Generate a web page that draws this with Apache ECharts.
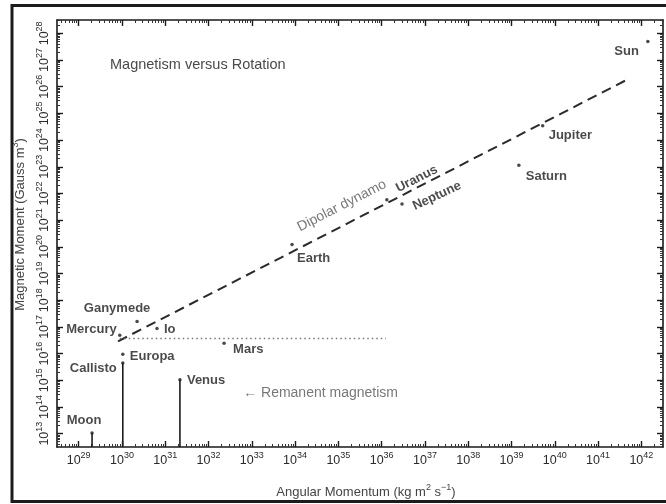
<!DOCTYPE html>
<html>
<head>
<meta charset="utf-8">
<script src="https://cdn.jsdelivr.net/npm/echarts@6/dist/echarts.min.js"></script>
<style>
  html, body { margin: 0; padding: 0; background: #fff; }
  #chart { width: 666px; height: 504px; }
</style>
</head>
<body>
<div id="chart"></div>
<script>
// Magnetic moment against spin angular momentum for solar-system bodies.
// Values are stored as base-10 exponents; axes run linearly in the exponent.

// Axis extents (exponents) and the decade tick labels
const xRange = [28.5, 42.5];
const yRange = [12.5, 28.5];
const xDecades = [29, 30, 31, 32, 33, 34, 35, 36, 37, 38, 39, 40, 41, 42];
const yDecades = [13, 14, 15, 16, 17, 18, 19, 20, 21, 22, 23, 24, 25, 26, 27, 28];

// Bodies with a measured dipole moment
const bodyNames = ['Sun', 'Jupiter', 'Saturn', 'Uranus', 'Neptune', 'Earth',
                   'Ganymede', 'Mercury', 'Io', 'Europa', 'Mars'];
const bodyLogL  = [42.15, 39.72, 39.17, 36.12, 36.47, 33.93, 30.35, 29.95, 30.81, 30.02, 32.36];
const bodyLogM  = [27.69, 24.54, 23.06, 21.76, 21.61, 20.09, 17.20, 16.69, 16.94, 15.98, 16.39];

// Bodies with only an upper limit
const limitNames = ['Callisto', 'Venus', 'Moon'];
const limitLogL  = [30.02, 31.34, 29.31];
const limitLogM  = [15.65, 15.02, 13.02];

// Dipolar-dynamo scaling line and the remanent-magnetism ceiling
const dynamoL = [29.91, 41.69];
const dynamoM = [16.46, 26.28];
const remanentL = [29.95, 36.10];
const remanentM = [16.57, 16.57];

// Free-standing annotations
const noteTexts = ['Dipolar dynamo', '\u2190 Remanent magnetism'];
const noteL = [35.08, 32.80];
const noteM = [21.54, 14.50];

// ---- presentation ----
const FONT = '"Liberation Sans", Arial, Helvetica, sans-serif';
const INK = '#1b1b1b';

// rotate a wanted screen shift into the label's rotated frame
function rotOffset(dx, dy, deg) {
  const t = deg * Math.PI / 180, c = Math.cos(t), s = Math.sin(t);
  return [dx * c - dy * s, dx * s + dy * c];
}

// label placement for each body: [align, dx, dy, rotate]
const bodyLabelStyle = {
  Sun:      ['right', -9, 10, 0],
  Jupiter:  ['left', 6, 10, 0],
  Saturn:   ['left', 7, 11, 0],
  Uranus:   ['center', 30, -21, 27],
  Neptune:  ['center', 35, -8, 25],
  Earth:    ['left', 5, 14, 0],
  Ganymede: ['center', -20, -13, 0],
  Mercury:  ['right', -3, -6, 0],
  Io:       ['left', 7, 1, 0],
  Europa:   ['left', 7, 2, 0],
  Mars:     ['left', 9, 6, 0],
  Callisto: ['right', -6, 5, 0],
  Venus:    ['left', 7, 1, 0],
  Moon:     ['center', -8, -13, 0]
};

function labelled(names, xs, ys) {
  return names.map((n, i) => {
    const st = bodyLabelStyle[n];
    const off = st[3] ? rotOffset(st[1], st[2], st[3]) : [st[1], st[2]];
    return {
      name: n,
      value: [xs[i], ys[i]],
      label: { align: st[0], offset: off, rotate: st[3] }
    };
  });
}

// log-spaced minor ticks (2..9 within every decade)
function minorTicks(range) {
  const out = [];
  for (let d = Math.floor(range[0]); d <= Math.ceil(range[1]); d++) {
    for (let k = 2; k <= 9; k++) {
      const v = d + Math.log10(k);
      if (v > range[0] && v < range[1]) out.push(+v.toFixed(4));
    }
  }
  return out;
}
const xMinor = minorTicks(xRange);
const yMinor = minorTicks(yRange);

const powerRich = {
  b: { fontSize: 12.5, lineHeight: 16, verticalAlign: 'bottom', color: '#2a2a2a', fontFamily: FONT },
  s: { fontSize: 9, lineHeight: 10, verticalAlign: 'top', color: '#2a2a2a', fontFamily: FONT }
};
const powerFmt = v => '{b|10}{s|' + Math.round(v) + '}';

const lineStyleAxis = { color: '#1a1a1a', width: 1.6 };

function makeAxis(position, range, major, minor) {
  const base = {
    type: 'value', position: position, min: range[0], max: range[1],
    splitLine: { show: false }, scale: true
  };
  const majorAxis = Object.assign({}, base, {
    axisLine: { show: true, onZero: false, lineStyle: lineStyleAxis },
    axisTick: { show: true, inside: true, length: 6, customValues: major,
                lineStyle: { color: '#1a1a1a', width: 1.4 } },
    axisLabel: { show: false }
  });
  const minorAxis = Object.assign({}, base, {
    axisLine: { show: false, onZero: false },
    axisTick: { show: true, inside: true, length: 3, customValues: minor,
                lineStyle: { color: '#333', width: 1 } },
    axisLabel: { show: false }
  });
  return [majorAxis, minorAxis];
}

const xAxes = makeAxis('bottom', xRange, xDecades, xMinor)
  .concat(makeAxis('top', xRange, xDecades, xMinor));
const yAxes = makeAxis('left', yRange, yDecades, yMinor)
  .concat(makeAxis('right', yRange, yDecades, yMinor));

const nameRich = {
  t: { fontSize: 13, color: '#444', fontFamily: FONT, lineHeight: 16, verticalAlign: 'bottom' },
  s: { fontSize: 9, color: '#444', fontFamily: FONT, lineHeight: 10, verticalAlign: 'top' }
};

// labelled bottom and left axes
xAxes[0].axisLabel = {
  show: true, customValues: xDecades, formatter: powerFmt, rich: powerRich, margin: 4
};
xAxes[0].name = '{t|Angular Momentum (kg m}{s|2}{t| s}{s|\u22121}{t|)}';
xAxes[0].nameLocation = 'middle';
xAxes[0].nameGap = 36;
xAxes[0].nameTextStyle = { rich: nameRich, padding: [0, 0, 0, 12] };

yAxes[0].axisLabel = {
  show: true, customValues: yDecades, formatter: powerFmt, rich: powerRich,
  rotate: 90, margin: 6
};
yAxes[0].name = '{t|Magnetic Moment (Gauss m}{s|3}{t|)}';
yAxes[0].nameLocation = 'middle';
yAxes[0].nameGap = 27;
yAxes[0].nameRotate = 90;
yAxes[0].nameTextStyle = { rich: nameRich, padding: [0, 0, 0, 18] };

const chart = echarts.init(document.getElementById('chart'), null, { renderer: 'canvas' });

chart.setOption({
  animation: false,
  backgroundColor: '#ffffff',
  textStyle: { fontFamily: FONT },
  title: {
    text: 'Magnetism versus Rotation',
    left: 110, top: 57, padding: 0,
    textStyle: { fontSize: 14.5, fontWeight: 'normal', color: '#4a4a4a', fontFamily: FONT }
  },
  grid: { left: 57, right: 3, top: 20, bottom: 52, containLabel: false },
  xAxis: xAxes,
  yAxis: yAxes,
  graphic: [{
    type: 'rect', silent: true, z: 100,
    shape: { x: 12, y: 5.5, width: 700, height: 496 },
    style: { fill: 'none', stroke: '#1c1c1c', lineWidth: 3 }
  }],
  series: [
    {
      name: 'Dipolar dynamo', type: 'line', symbol: 'none', silent: true,
      data: dynamoL.map((x, i) => [x, dynamoM[i]]),
      lineStyle: { color: '#2a2a2a', width: 2, type: [10, 6] }
    },
    {
      name: 'Remanent limit', type: 'line', symbol: 'none', silent: true,
      data: remanentL.map((x, i) => [x, remanentM[i]]),
      lineStyle: { color: '#777', width: 1.5, type: [1.5, 3] }
    },
    {
      name: 'Upper limits', type: 'custom', silent: true,
      data: limitLogL.map((x, i) => [x, limitLogM[i]]),
      renderItem: function (params, api) {
        const top = api.coord([api.value(0), api.value(1)]);
        const bottom = api.coord([api.value(0), yRange[0]]);
        return {
          type: 'line',
          shape: { x1: top[0], y1: top[1], x2: bottom[0], y2: bottom[1] },
          style: { stroke: INK, lineWidth: 1.6 }
        };
      }
    },
    {
      name: 'Bodies', type: 'scatter', symbol: 'circle', symbolSize: 3.5,
      itemStyle: { color: INK },
      data: labelled(bodyNames, bodyLogL, bodyLogM),
      label: {
        show: true, position: 'inside', formatter: '{b}', verticalAlign: 'middle',
        fontSize: 13, fontWeight: 'bold', color: INK, fontFamily: FONT
      }
    },
    {
      name: 'Limits', type: 'scatter', symbol: 'circle', symbolSize: 3.5,
      itemStyle: { color: INK },
      data: labelled(limitNames, limitLogL, limitLogM),
      label: {
        show: true, position: 'inside', formatter: '{b}', verticalAlign: 'middle',
        fontSize: 13, fontWeight: 'bold', color: INK, fontFamily: FONT
      }
    },
    {
      name: 'Notes', type: 'scatter', symbolSize: 0, silent: true,
      data: noteTexts.map((t, i) => ({
        name: t, value: [noteL[i], noteM[i]],
        label: i === 0 ? { align: 'center', rotate: 27 } : { align: 'left' }
      })),
      label: {
        show: true, position: 'inside', formatter: '{b}', verticalAlign: 'middle',
        fontSize: 14, color: '#555', fontFamily: FONT
      }
    }
  ]
});
</script>
</body>
</html>
